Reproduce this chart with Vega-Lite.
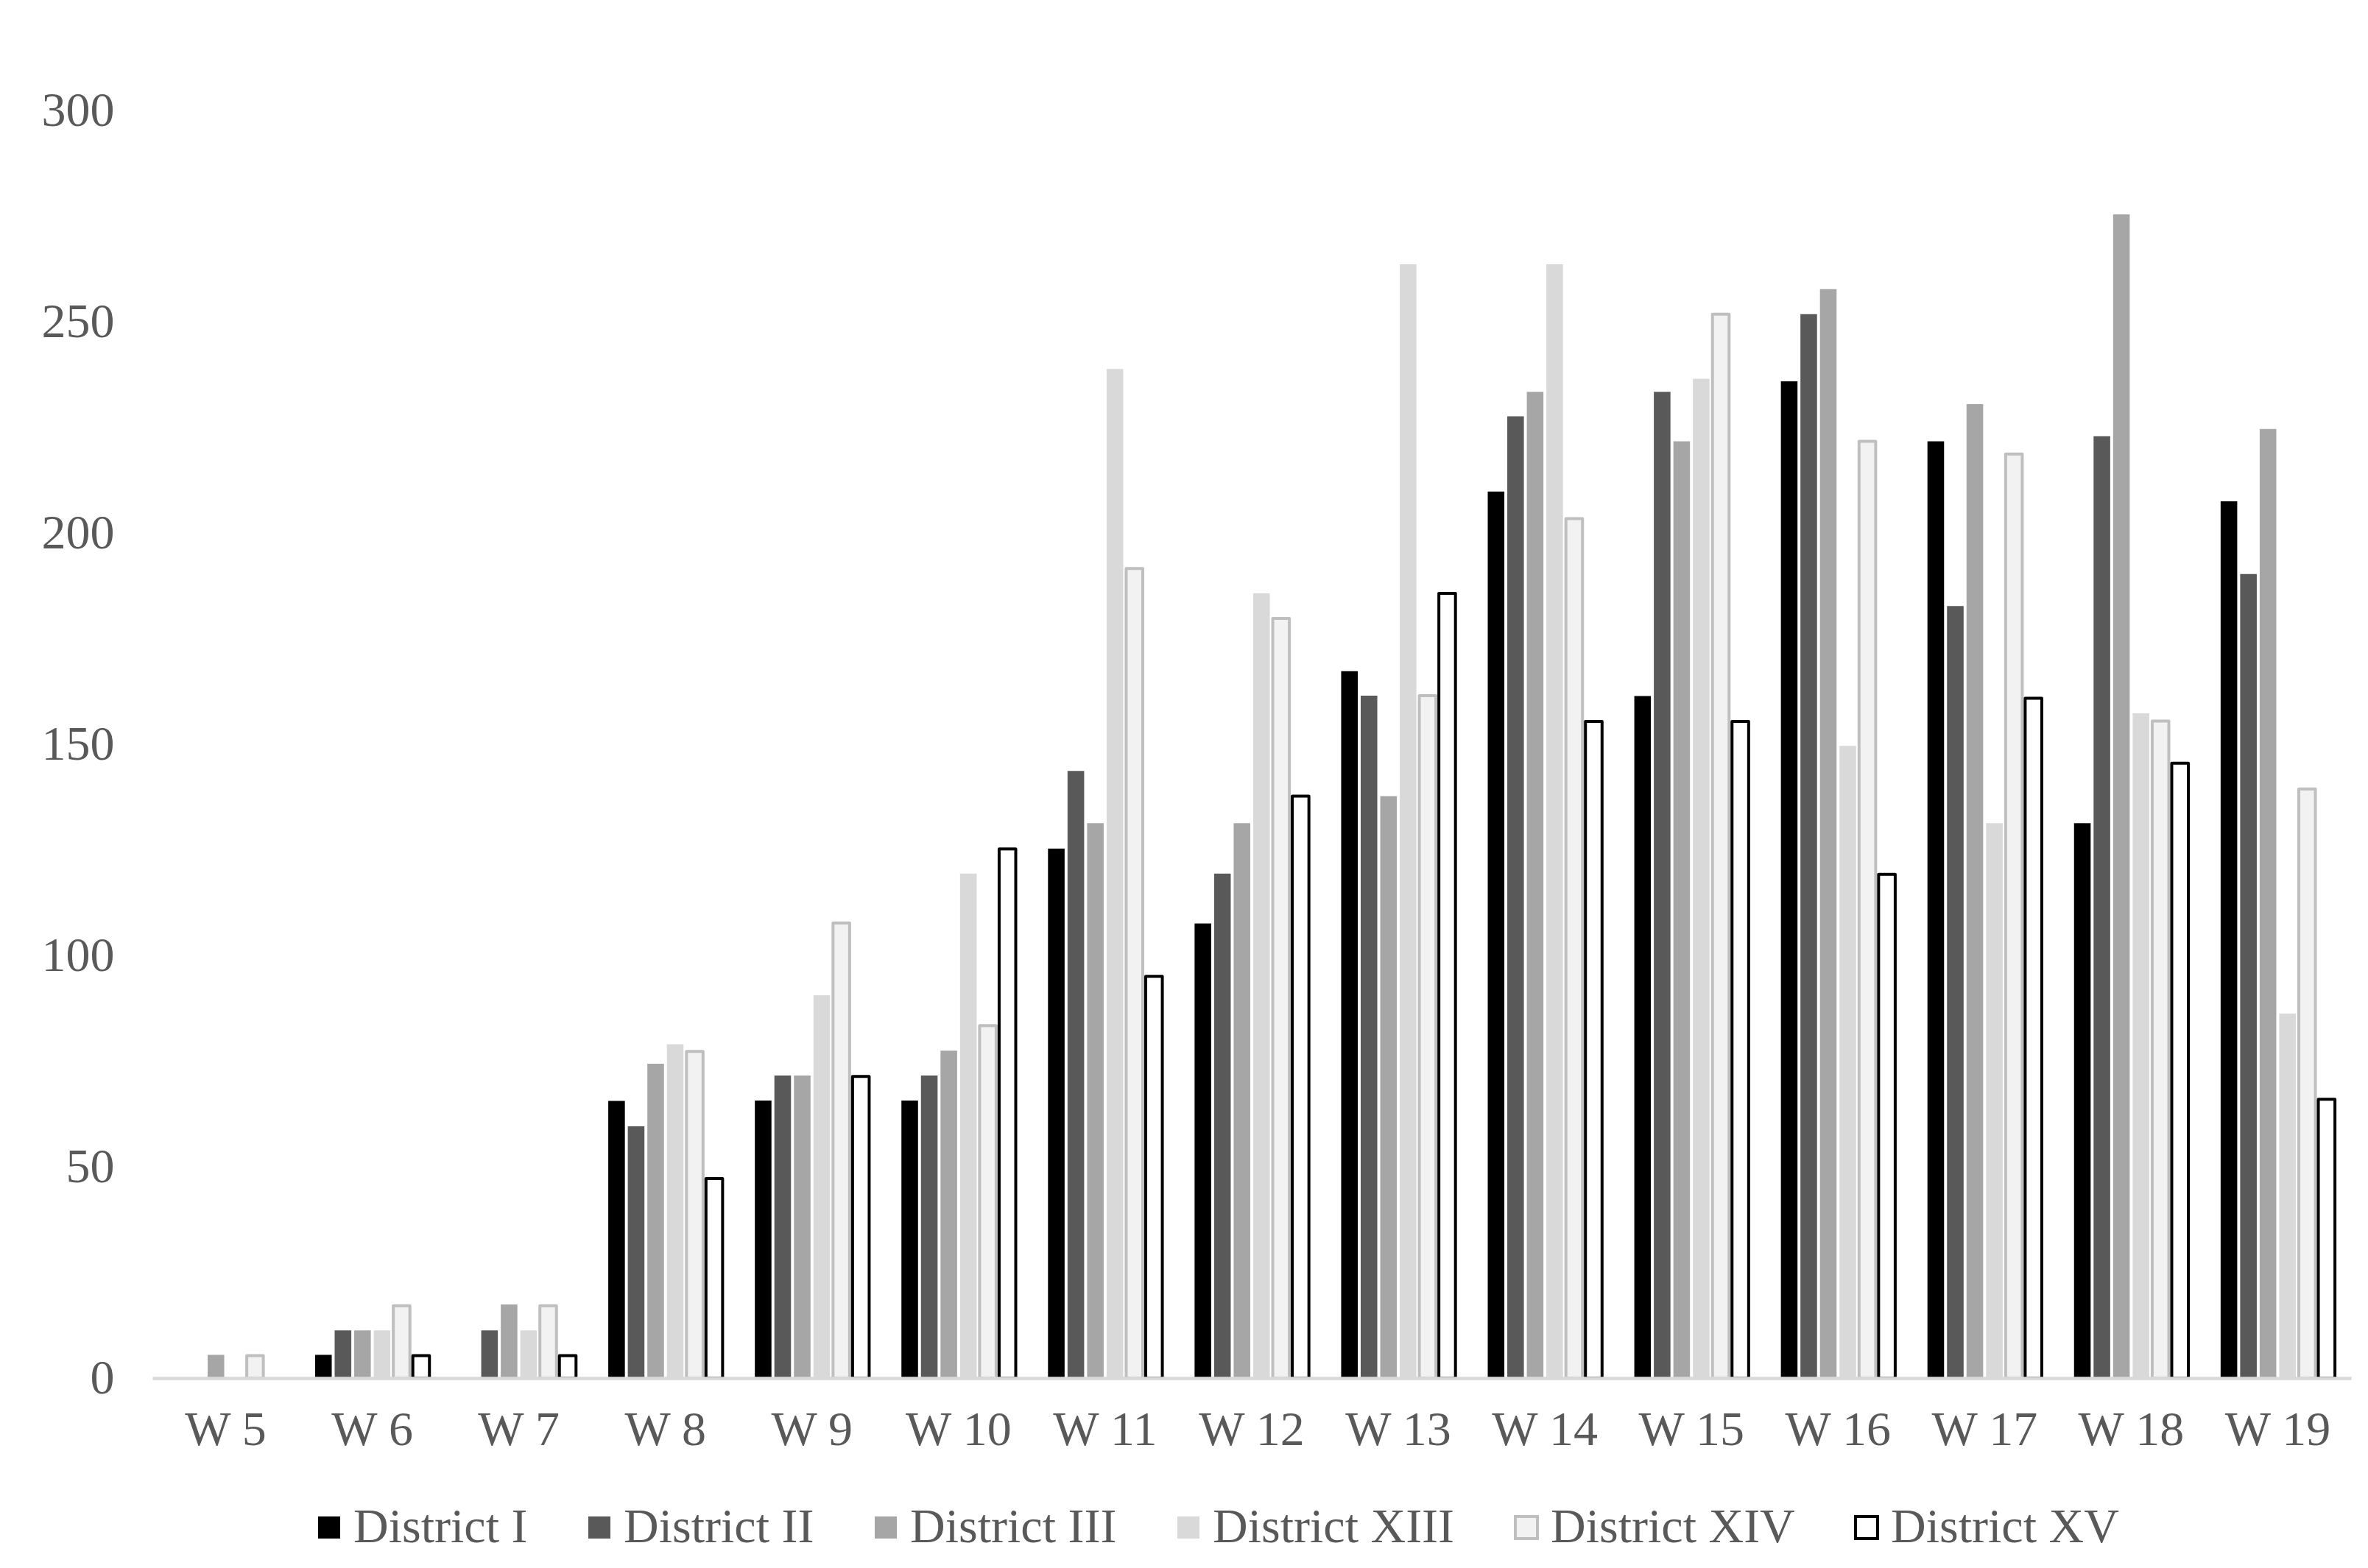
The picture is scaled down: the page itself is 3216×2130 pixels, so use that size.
{
  "$schema": "https://vega.github.io/schema/vega-lite/v6.json",
  "width": 2986,
  "height": 1722,
  "autosize": "none",
  "padding": {"left": 207, "top": 150, "right": 23, "bottom": 258},
  "background": "white",
  "config": {"view": {"stroke": null}, "font": "Liberation Serif"},
  "data": {"values": [
    {"week": "W 5", "district": "District III", "value": 5.5},
    {"week": "W 5", "district": "District XIV", "value": 5.3},
    {"week": "W 6", "district": "District I", "value": 5.5},
    {"week": "W 6", "district": "District II", "value": 11.3},
    {"week": "W 6", "district": "District III", "value": 11.3},
    {"week": "W 6", "district": "District XIII", "value": 11.3},
    {"week": "W 6", "district": "District XIV", "value": 17.1},
    {"week": "W 6", "district": "District XV", "value": 5.3},
    {"week": "W 7", "district": "District II", "value": 11.3},
    {"week": "W 7", "district": "District III", "value": 17.4},
    {"week": "W 7", "district": "District XIII", "value": 11.3},
    {"week": "W 7", "district": "District XIV", "value": 17.1},
    {"week": "W 7", "district": "District XV", "value": 5.3},
    {"week": "W 8", "district": "District I", "value": 65.6},
    {"week": "W 8", "district": "District II", "value": 59.6},
    {"week": "W 8", "district": "District III", "value": 74.4},
    {"week": "W 8", "district": "District XIII", "value": 79.0},
    {"week": "W 8", "district": "District XIV", "value": 77.3},
    {"week": "W 8", "district": "District XV", "value": 47.2},
    {"week": "W 9", "district": "District I", "value": 65.7},
    {"week": "W 9", "district": "District II", "value": 71.6},
    {"week": "W 9", "district": "District III", "value": 71.6},
    {"week": "W 9", "district": "District XIII", "value": 90.6},
    {"week": "W 9", "district": "District XIV", "value": 107.7},
    {"week": "W 9", "district": "District XV", "value": 71.4},
    {"week": "W 10", "district": "District I", "value": 65.7},
    {"week": "W 10", "district": "District II", "value": 71.6},
    {"week": "W 10", "district": "District III", "value": 77.5},
    {"week": "W 10", "district": "District XIII", "value": 119.4},
    {"week": "W 10", "district": "District XIV", "value": 83.4},
    {"week": "W 10", "district": "District XV", "value": 125.2},
    {"week": "W 11", "district": "District I", "value": 125.3},
    {"week": "W 11", "district": "District II", "value": 143.7},
    {"week": "W 11", "district": "District III", "value": 131.3},
    {"week": "W 11", "district": "District XIII", "value": 238.8},
    {"week": "W 11", "district": "District XIV", "value": 191.6},
    {"week": "W 11", "district": "District XV", "value": 95.1},
    {"week": "W 12", "district": "District I", "value": 107.6},
    {"week": "W 12", "district": "District II", "value": 119.4},
    {"week": "W 12", "district": "District III", "value": 131.3},
    {"week": "W 12", "district": "District XIII", "value": 185.7},
    {"week": "W 12", "district": "District XIV", "value": 179.8},
    {"week": "W 12", "district": "District XV", "value": 137.7},
    {"week": "W 13", "district": "District I", "value": 167.3},
    {"week": "W 13", "district": "District II", "value": 161.5},
    {"week": "W 13", "district": "District III", "value": 137.7},
    {"week": "W 13", "district": "District XIII", "value": 263.6},
    {"week": "W 13", "district": "District XIV", "value": 161.5},
    {"week": "W 13", "district": "District XV", "value": 185.7},
    {"week": "W 14", "district": "District I", "value": 209.8},
    {"week": "W 14", "district": "District II", "value": 227.6},
    {"week": "W 14", "district": "District III", "value": 233.4},
    {"week": "W 14", "district": "District XIII", "value": 263.6},
    {"week": "W 14", "district": "District XIV", "value": 203.4},
    {"week": "W 14", "district": "District XV", "value": 155.4},
    {"week": "W 15", "district": "District I", "value": 161.4},
    {"week": "W 15", "district": "District II", "value": 233.4},
    {"week": "W 15", "district": "District III", "value": 221.7},
    {"week": "W 15", "district": "District XIII", "value": 236.5},
    {"week": "W 15", "district": "District XIV", "value": 251.8},
    {"week": "W 15", "district": "District XV", "value": 155.4},
    {"week": "W 16", "district": "District I", "value": 235.9},
    {"week": "W 16", "district": "District II", "value": 251.8},
    {"week": "W 16", "district": "District III", "value": 257.7},
    {"week": "W 16", "district": "District XIII", "value": 149.6},
    {"week": "W 16", "district": "District XIV", "value": 221.7},
    {"week": "W 16", "district": "District XV", "value": 119.2},
    {"week": "W 17", "district": "District I", "value": 221.7},
    {"week": "W 17", "district": "District II", "value": 182.7},
    {"week": "W 17", "district": "District III", "value": 230.5},
    {"week": "W 17", "district": "District XIII", "value": 131.3},
    {"week": "W 17", "district": "District XIV", "value": 218.7},
    {"week": "W 17", "district": "District XV", "value": 160.9},
    {"week": "W 18", "district": "District I", "value": 131.3},
    {"week": "W 18", "district": "District II", "value": 222.9},
    {"week": "W 18", "district": "District III", "value": 275.4},
    {"week": "W 18", "district": "District XIII", "value": 157.3},
    {"week": "W 18", "district": "District XIV", "value": 155.5},
    {"week": "W 18", "district": "District XV", "value": 145.5},
    {"week": "W 19", "district": "District I", "value": 207.5},
    {"week": "W 19", "district": "District II", "value": 190.3},
    {"week": "W 19", "district": "District III", "value": 224.6},
    {"week": "W 19", "district": "District XIII", "value": 86.3},
    {"week": "W 19", "district": "District XIV", "value": 139.4},
    {"week": "W 19", "district": "District XV", "value": 66.0}
  ]},
  "mark": {"type": "bar", "strokeWidth": 4, "strokeJoin": "round"},
  "encoding": {
    "x": {
      "field": "week", "type": "nominal",
      "sort": ["W 5", "W 6", "W 7", "W 8", "W 9", "W 10", "W 11", "W 12", "W 13", "W 14", "W 15", "W 16", "W 17", "W 18", "W 19"],
      "scale": {"paddingInner": 0.22, "paddingOuter": 0.11},
      "axis": {
        "title": null, "labelAngle": 0, "labelFont": "Liberation Serif", "labelFontSize": 66,
        "labelColor": "#595959", "ticks": false, "tickSize": 0, "domainColor": "#d9d9d9",
        "domainWidth": 4.5, "labelPadding": 38, "zindex": 1
      }
    },
    "xOffset": {
      "field": "district", "type": "nominal",
      "scale": {
        "domain": ["District I", "District II", "District III", "District XIII", "District XIV", "District XV"],
        "paddingInner": 0.15, "paddingOuter": 0
      }
    },
    "y": {
      "field": "value", "type": "quantitative",
      "scale": {"domain": [0, 300], "nice": false},
      "axis": {
        "title": null, "values": [0, 50, 100, 150, 200, 250, 300], "domain": false, "ticks": false,
        "tickSize": 0, "grid": false, "labelFont": "Liberation Serif", "labelFontSize": 66,
        "labelColor": "#595959", "labelPadding": 52
      }
    },
    "fill": {
      "field": "district", "type": "nominal",
      "scale": {
        "domain": ["District I", "District II", "District III", "District XIII", "District XIV", "District XV"],
        "range": ["#000000", "#595959", "#a6a6a6", "#d9d9d9", "#f2f2f2", "#ffffff"]
      },
      "legend": {
        "title": null, "orient": "none", "legendX": 207, "legendY": 1892, "direction": "horizontal",
        "symbolType": "square", "symbolSize": 900, "symbolStrokeWidth": 4, "labelOffset": 0,
        "columnPadding": 64, "labelFont": "Liberation Serif", "labelFontSize": 66,
        "labelColor": "#595959", "padding": 0, "labelLimit": 0
      }
    },
    "stroke": {
      "field": "district", "type": "nominal",
      "scale": {
        "domain": ["District I", "District II", "District III", "District XIII", "District XIV", "District XV"],
        "range": ["transparent", "transparent", "transparent", "transparent", "#bfbfbf", "#000000"]
      },
      "legend": {
        "title": null, "orient": "none", "legendX": 207, "legendY": 1892, "direction": "horizontal",
        "symbolType": "square", "symbolSize": 900, "symbolStrokeWidth": 4, "labelOffset": 0,
        "columnPadding": 64, "labelFont": "Liberation Serif", "labelFontSize": 66,
        "labelColor": "#595959", "padding": 0, "labelLimit": 0
      }
    }
  }
}
